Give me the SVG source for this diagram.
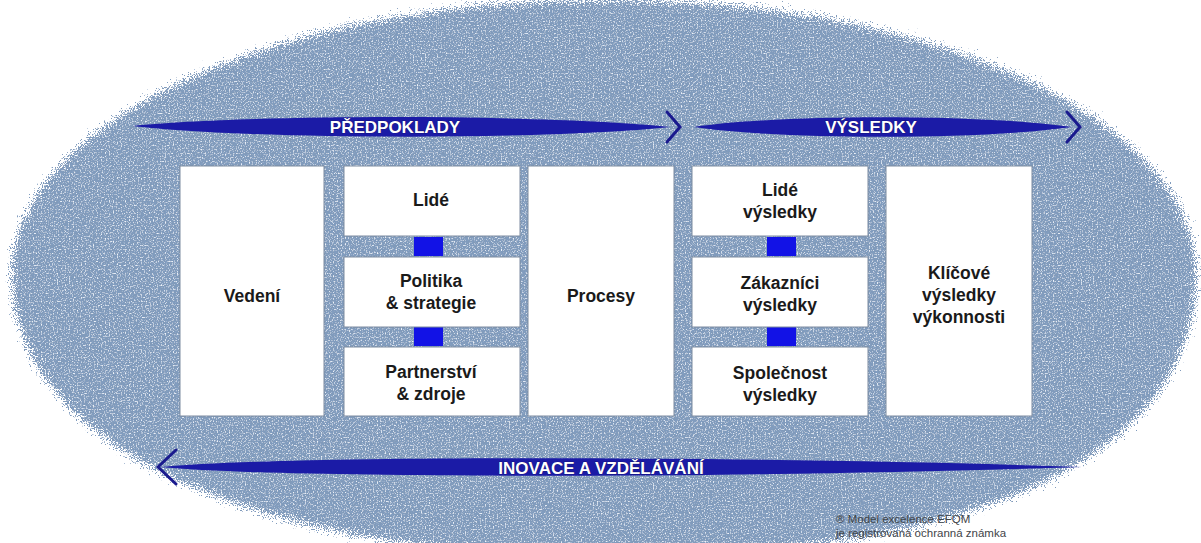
<svg xmlns="http://www.w3.org/2000/svg" width="1201" height="543" viewBox="0 0 1201 543">
  <defs>
    <style>
      .box { fill: #ffffff; stroke: #7d8ba0; stroke-width: 1; }
      .lbl { font-family: "Liberation Sans", Arial, sans-serif; font-weight: bold; font-size: 17.5px; fill: #1a1a1a; text-anchor: middle; }
      .alb { font-family: "Liberation Sans", Arial, sans-serif; font-weight: bold; font-size: 17px; fill: #ffffff; text-anchor: middle; stroke: #0c0c50; stroke-width: 0.6; paint-order: stroke; }
      .lens { fill: #1b1ba6; }
      .chev { fill: none; stroke: #1a1a8e; stroke-width: 3; stroke-linecap: round; stroke-linejoin: miter; }
      .link { fill: #1212e6; }
      .foot { font-family: "Liberation Sans", Arial, sans-serif; font-size: 11.5px; fill: #3f4448; }
    </style>
    <filter id="speckle" x="-3%" y="-3%" width="106%" height="106%">
      <feTurbulence type="fractalNoise" baseFrequency="0.85" numOctaves="2" seed="7" result="n"/>
      <feDisplacementMap in="SourceGraphic" in2="n" scale="30" xChannelSelector="R" yChannelSelector="G" result="rough"/>
      <feTurbulence type="fractalNoise" baseFrequency="0.75" numOctaves="1" seed="11" result="t"/>
      <feColorMatrix in="t" type="matrix" values="0 0 0 0 0.22  0 0 0 0 0.32  0 0 0 0 0.48  5 0 0 0 -2.1" result="dots"/>
      <feColorMatrix in="t" type="matrix" values="0 0 0 0 0.85  0 0 0 0 0.9  0 0 0 0 0.97  0 4 0 0 -2.1" result="light"/>
      <feComposite in="dots" in2="rough" operator="in" result="d2"/>
      <feComposite in="light" in2="rough" operator="in" result="l2"/>
      <feMerge><feMergeNode in="rough"/><feMergeNode in="d2"/><feMergeNode in="l2"/></feMerge>
    </filter>
  </defs>

  <rect x="0" y="0" width="1201" height="543" fill="#ffffff"/>

  <g id="background">
    <path filter="url(#speckle)" fill="#819dc0" d="M 608,0 C 940,0 1196,122 1196,275 C 1196,440 1010,556 608,556 C 240,556 12,440 12,275 C 12,122 276,0 608,0 Z"/>
  </g>

  <g id="connectors">
    <rect class="link" x="414" y="237" width="29" height="19"/>
    <rect class="link" x="414" y="327" width="29" height="19"/>
    <rect class="link" x="767" y="237" width="29" height="19"/>
    <rect class="link" x="767" y="327" width="29" height="19"/>
  </g>

  <g id="arrow-predpoklady">
    <path class="lens" d="M 133,126 C 250,114 550,114 670,127 C 550,140 250,140 133,126 Z"/>
    <polyline class="chev" points="667,112 680,127 667,142"/>
    <text class="alb" x="395" y="133">PŘEDPOKLADY</text>
  </g>

  <g id="arrow-vysledky">
    <path class="lens" d="M 694,127 C 780,114 980,114 1072,127 C 980,140 780,140 694,127 Z"/>
    <polyline class="chev" points="1067,112 1080,127 1067,142"/>
    <text class="alb" x="871" y="133">VÝSLEDKY</text>
  </g>

  <g id="arrow-inovace">
    <path class="lens" d="M 160,467 C 300,454 800,457 1082,467 C 800,477 300,480 160,467 Z"/>
    <polyline class="chev" points="176,450 158,467 176,484"/>
    <text class="alb" x="601" y="474">INOVACE A VZDĚLÁVÁNÍ</text>
  </g>

  <g id="node-vedeni">
    <rect class="box" x="180" y="166" width="144" height="250"/>
    <text class="lbl" x="252" y="302">Vedení</text>
  </g>

  <g id="node-lide">
    <rect class="box" x="344" y="166" width="176" height="70"/>
    <text class="lbl" x="431" y="206">Lidé</text>
  </g>

  <g id="node-politika">
    <rect class="box" x="344" y="257" width="176" height="70"/>
    <text class="lbl" x="431" y="287">Politika</text>
    <text class="lbl" x="431" y="309">&amp; strategie</text>
  </g>

  <g id="node-partnerstvi">
    <rect class="box" x="344" y="347" width="176" height="69"/>
    <text class="lbl" x="431" y="378">Partnerství</text>
    <text class="lbl" x="431" y="400">&amp; zdroje</text>
  </g>

  <g id="node-procesy">
    <rect class="box" x="528" y="166" width="146" height="250"/>
    <text class="lbl" x="601" y="302">Procesy</text>
  </g>

  <g id="node-lide-vysledky">
    <rect class="box" x="692" y="166" width="176" height="70"/>
    <text class="lbl" x="780" y="196">Lidé</text>
    <text class="lbl" x="780" y="218">výsledky</text>
  </g>

  <g id="node-zakaznici-vysledky">
    <rect class="box" x="692" y="257" width="176" height="70"/>
    <text class="lbl" x="780" y="289">Zákazníci</text>
    <text class="lbl" x="780" y="311">výsledky</text>
  </g>

  <g id="node-spolecnost-vysledky">
    <rect class="box" x="692" y="347" width="176" height="69"/>
    <text class="lbl" x="780" y="379">Společnost</text>
    <text class="lbl" x="780" y="401">výsledky</text>
  </g>

  <g id="node-klicove-vysledky">
    <rect class="box" x="886" y="166" width="146" height="250"/>
    <text class="lbl" x="959" y="279">Klíčové</text>
    <text class="lbl" x="959" y="301">výsledky</text>
    <text class="lbl" x="959" y="323">výkonnosti</text>
  </g>

  <g id="footer">
    <text class="foot" x="836" y="523">® Model excelence EFQM</text>
    <text class="foot" x="836" y="537">je registrovaná ochranná známka</text>
  </g>
</svg>
